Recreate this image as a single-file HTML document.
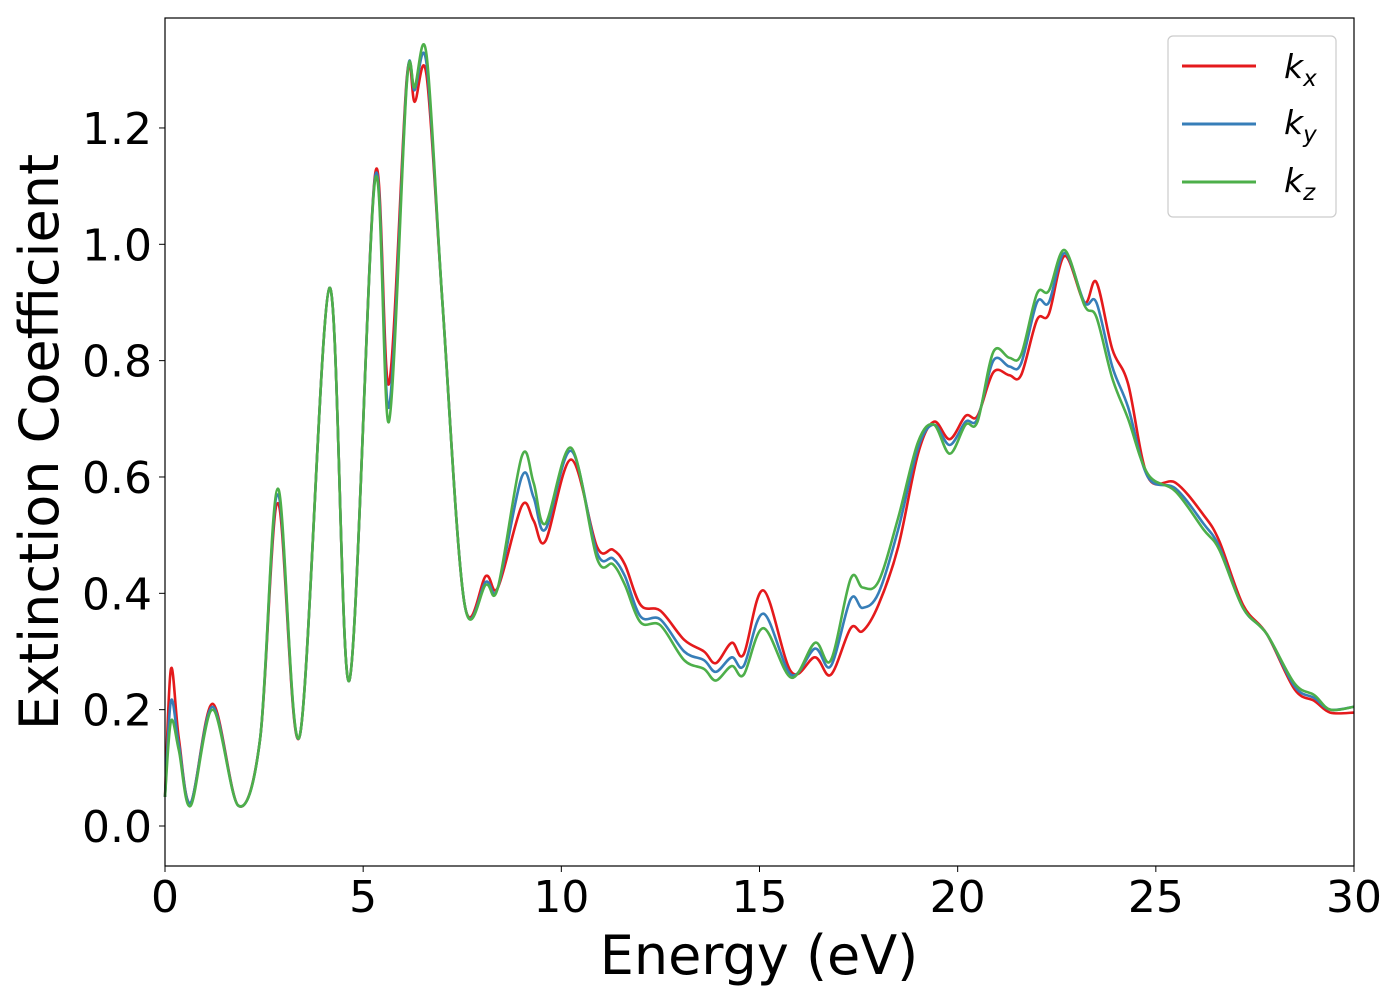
<!DOCTYPE html>
<html><head><meta charset="utf-8"><style>
body{margin:0;background:#fff;}
svg{display:block;font-family:"DejaVu Sans","Liberation Sans",sans-serif;}
</style></head><body>
<svg id="chart" width="1400" height="1000" viewBox="0 0 1400 1000">
<rect x="0" y="0" width="1400" height="1000" fill="#fff"/>
<g id="series"></g>
<rect x="165" y="18" width="1189" height="848" fill="none" stroke="#000" stroke-width="1.2"/>
<g id="xticks"></g>
<g id="yticks"></g>
<text x="759" y="974" font-size="54" text-anchor="middle">Energy (eV)</text>
<text transform="translate(58,442) rotate(-90)" font-size="54" text-anchor="middle">Extinction Coefficient</text>
<g>
<rect x="1168" y="36" width="168" height="181" rx="5" fill="#fff" stroke="#ccc" stroke-width="1.2"/>
<line x1="1182" y1="66" x2="1256" y2="66" stroke="#e41a1c" stroke-width="3"/>
<text x="1284" y="78" font-size="33" font-style="italic">k<tspan font-size="23" dy="8">x</tspan></text>
<line x1="1182" y1="124" x2="1256" y2="124" stroke="#377eb8" stroke-width="3"/>
<text x="1284" y="134" font-size="33" font-style="italic">k<tspan font-size="23" dy="8">y</tspan></text>
<line x1="1182" y1="182" x2="1256" y2="182" stroke="#4daf4a" stroke-width="3"/>
<text x="1284" y="192" font-size="33" font-style="italic">k<tspan font-size="23" dy="8">z</tspan></text>
</g>
</svg>
<script>
const energy=[0,0.15,0.35,0.65,1.2,1.85,2.4,2.85,3.4,4.15,4.65,5.3,5.65,6.1,6.3,6.6,7.0,7.55,8.1,8.4,9.0,9.3,9.6,10.25,10.9,11.3,11.6,12.0,12.5,13.1,13.6,13.9,14.3,14.6,15.1,15.8,16.4,16.8,17.3,17.6,18.0,18.5,19.0,19.4,19.8,20.2,20.5,20.9,21.3,21.6,22.0,22.3,22.7,23.2,23.5,23.9,24.3,24.8,25.5,26.2,26.6,27.2,27.8,28.5,29.0,29.4,30];
const kx=[0.05,0.27,0.15,0.04,0.21,0.035,0.15,0.555,0.155,0.925,0.25,1.12,0.76,1.285,1.245,1.29,0.9,0.385,0.43,0.41,0.55,0.525,0.49,0.63,0.48,0.475,0.45,0.38,0.37,0.32,0.3,0.28,0.315,0.295,0.405,0.265,0.29,0.26,0.34,0.335,0.38,0.48,0.64,0.695,0.665,0.705,0.705,0.78,0.775,0.775,0.87,0.88,0.98,0.9,0.935,0.82,0.76,0.6,0.59,0.535,0.49,0.38,0.33,0.235,0.215,0.195,0.195];
const ky=[0.05,0.215,0.14,0.04,0.205,0.035,0.15,0.57,0.155,0.925,0.25,1.115,0.72,1.28,1.265,1.31,0.9,0.385,0.42,0.41,0.6,0.565,0.51,0.645,0.47,0.46,0.43,0.36,0.355,0.3,0.285,0.265,0.29,0.275,0.365,0.26,0.305,0.275,0.39,0.375,0.4,0.51,0.65,0.69,0.655,0.695,0.7,0.8,0.79,0.795,0.9,0.9,0.985,0.9,0.9,0.79,0.72,0.6,0.58,0.52,0.48,0.375,0.33,0.24,0.22,0.2,0.205];
const kz=[0.05,0.18,0.13,0.035,0.2,0.035,0.15,0.58,0.155,0.925,0.25,1.11,0.695,1.275,1.27,1.325,0.9,0.385,0.415,0.41,0.635,0.59,0.52,0.65,0.46,0.45,0.415,0.35,0.345,0.285,0.27,0.25,0.275,0.26,0.34,0.255,0.315,0.285,0.425,0.41,0.42,0.53,0.66,0.69,0.64,0.69,0.695,0.815,0.805,0.81,0.915,0.92,0.99,0.895,0.875,0.77,0.7,0.605,0.575,0.51,0.475,0.375,0.33,0.245,0.225,0.2,0.205];
const xTicks=[0,5,10,15,20,25,30];
const yTicks=[0.0,0.2,0.4,0.6,0.8,1.0,1.2];
const X=e=>165+e*(1189/30);
const Y=v=>826-v*581.7;
const NS="http://www.w3.org/2000/svg";
function path(xs,ys){
  const p=xs.map((e,i)=>[X(e),Y(ys[i])]);
  let d="M"+p[0][0]+","+p[0][1];
  for(let i=0;i<p.length-1;i++){
    const p0=p[Math.max(0,i-1)],p1=p[i],p2=p[i+1],p3=p[Math.min(p.length-1,i+2)];
    const c1=[p1[0]+(p2[0]-p0[0])/6,p1[1]+(p2[1]-p0[1])/6];
    const c2=[p2[0]-(p3[0]-p1[0])/6,p2[1]-(p3[1]-p1[1])/6];
    d+=" C"+c1+" "+c2+" "+p2;
  }
  return d;
}
const g=document.getElementById("series");
[[kx,"#e41a1c","series-kx"],[ky,"#377eb8","series-ky"],[kz,"#4daf4a","series-kz"]].forEach(s=>{
  const el=document.createElementNS(NS,"path");
  el.setAttribute("d",path(energy,s[0]));
  el.setAttribute("fill","none");el.setAttribute("stroke",s[1]);el.setAttribute("stroke-width","2.6");
  
  
  g.appendChild(el);
});
const xg=document.getElementById("xticks");
xTicks.forEach(t=>{
  const l=document.createElementNS(NS,"line");
  l.setAttribute("x1",X(t));l.setAttribute("x2",X(t));l.setAttribute("y1",866);l.setAttribute("y2",872);l.setAttribute("stroke","#000");
  
  
  xg.appendChild(l);
  const tx=document.createElementNS(NS,"text");
  tx.setAttribute("x",X(t));tx.setAttribute("y",912);tx.setAttribute("font-size","44");tx.setAttribute("text-anchor","middle");
  tx.textContent=t;
  
  
  xg.appendChild(tx);
});
const yg=document.getElementById("yticks");
yTicks.forEach(t=>{
  const l=document.createElementNS(NS,"line");
  l.setAttribute("x1",159);l.setAttribute("x2",165);l.setAttribute("y1",Y(t));l.setAttribute("y2",Y(t));l.setAttribute("stroke","#000");
  
  
  yg.appendChild(l);
  const tx=document.createElementNS(NS,"text");
  tx.setAttribute("x",152);tx.setAttribute("y",Y(t)+16);tx.setAttribute("font-size","44");tx.setAttribute("text-anchor","end");
  tx.textContent=t.toFixed(1);
  
  
  yg.appendChild(tx);
});
</script>
</body></html>
